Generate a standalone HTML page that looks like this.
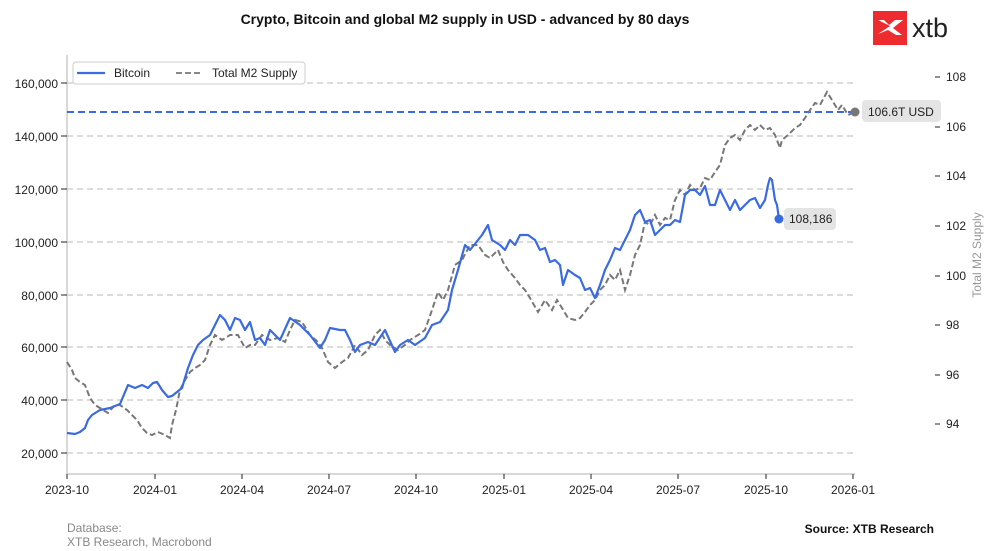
<!DOCTYPE html>
<html><head><meta charset="utf-8"><style>
body{margin:0;background:#fff;}
svg{display:block;font-family:"Liberation Sans",Arial,sans-serif;}
</style></head><body>
<svg width="989" height="551" viewBox="0 0 989 551">
<rect width="989" height="551" fill="#fff"/>
<text x="465" y="24" text-anchor="middle" font-size="14" font-weight="bold" fill="#111">Crypto, Bitcoin and global M2 supply in USD - advanced by 80 days</text>
<rect x="873" y="11" width="34" height="34" fill="#ee2b2f"/>
<path d="M878 20 L890 26 L878 34 L888 30 L896 35 L902 35 L893 28 L903 20 L895 20 L889 25 L884 20 Z" fill="#fff"/>
<text x="912" y="37" font-size="27" fill="#222">xtb</text>
<g stroke="#c8c8c8" stroke-width="1.3" stroke-dasharray="6,4">
<line x1="67" y1="83" x2="855" y2="83"/><line x1="67" y1="136" x2="855" y2="136"/><line x1="67" y1="189" x2="855" y2="189"/><line x1="67" y1="242" x2="855" y2="242"/><line x1="67" y1="295" x2="855" y2="295"/><line x1="67" y1="347" x2="855" y2="347"/><line x1="67" y1="400" x2="855" y2="400"/><line x1="67" y1="453" x2="855" y2="453"/>
</g>
<line x1="67" y1="55" x2="67" y2="474" stroke="#ccc" stroke-width="1.5"/>
<line x1="67" y1="474" x2="855" y2="474" stroke="#ccc" stroke-width="1.5"/>
<g font-size="12" fill="#222" text-anchor="end">
<text x="58" y="88">160,000</text><text x="58" y="141">140,000</text><text x="58" y="194">120,000</text><text x="58" y="247">100,000</text><text x="58" y="300">80,000</text><text x="58" y="352">60,000</text><text x="58" y="405">40,000</text><text x="58" y="458">20,000</text>
</g>
<g stroke="#222" stroke-width="1"><line x1="61" y1="83" x2="67" y2="83"/><line x1="61" y1="136" x2="67" y2="136"/><line x1="61" y1="189" x2="67" y2="189"/><line x1="61" y1="242" x2="67" y2="242"/><line x1="61" y1="295" x2="67" y2="295"/><line x1="61" y1="347" x2="67" y2="347"/><line x1="61" y1="400" x2="67" y2="400"/><line x1="61" y1="453" x2="67" y2="453"/>
<line x1="67" y1="474" x2="67" y2="479"/><line x1="155" y1="474" x2="155" y2="479"/><line x1="242" y1="474" x2="242" y2="479"/><line x1="329" y1="474" x2="329" y2="479"/><line x1="416" y1="474" x2="416" y2="479"/><line x1="504" y1="474" x2="504" y2="479"/><line x1="591" y1="474" x2="591" y2="479"/><line x1="678" y1="474" x2="678" y2="479"/><line x1="766" y1="474" x2="766" y2="479"/><line x1="853" y1="474" x2="853" y2="479"/>
<line x1="935" y1="77" x2="940" y2="77"/><line x1="935" y1="127" x2="940" y2="127"/><line x1="935" y1="176" x2="940" y2="176"/><line x1="935" y1="226" x2="940" y2="226"/><line x1="935" y1="276" x2="940" y2="276"/><line x1="935" y1="325" x2="940" y2="325"/><line x1="935" y1="375" x2="940" y2="375"/><line x1="935" y1="424" x2="940" y2="424"/>
</g>
<g font-size="12" fill="#222" text-anchor="middle">
<text x="67" y="494">2023-10</text><text x="155" y="494">2024-01</text><text x="242" y="494">2024-04</text><text x="329" y="494">2024-07</text><text x="416" y="494">2024-10</text><text x="504" y="494">2025-01</text><text x="591" y="494">2025-04</text><text x="678" y="494">2025-07</text><text x="766" y="494">2025-10</text><text x="853" y="494">2026-01</text>
</g>
<g font-size="12" fill="#222">
<text x="946" y="81">108</text><text x="946" y="131">106</text><text x="946" y="180">104</text><text x="946" y="230">102</text><text x="946" y="280">100</text><text x="946" y="329">98</text><text x="946" y="379">96</text><text x="946" y="428">94</text>
</g>
<text transform="translate(981,255) rotate(-90)" text-anchor="middle" font-size="12" fill="#999">Total M2 Supply</text>
<line x1="67" y1="112" x2="855" y2="112" stroke="#3b6be0" stroke-width="2" stroke-dasharray="7,4"/>
<polyline fill="none" stroke="#777" stroke-width="2" stroke-dasharray="6,3" points="67,362 72,370 75,378 80,382 85,385 90,398 95,405 100,408 108,413 115,405 120,405 127,410 132,415 137,420 142,428 147,433 152,435 158,432 165,435 170,438 172,425 176,410 180,390 185,380 190,372 195,368 200,365 205,360 210,345 215,335 222,340 230,335 238,335 245,348 250,345 255,345 262,335 270,340 278,338 285,342 290,330 295,320 302,322 310,335 318,342 322,348 328,362 335,368 342,362 348,358 355,345 362,355 368,350 375,335 380,330 385,340 390,345 398,350 405,345 410,340 418,335 425,330 432,310 438,292 443,300 448,290 455,265 462,260 470,245 478,245 485,255 490,258 498,250 503,262 508,270 515,278 520,285 525,290 530,298 538,312 545,300 552,310 557,300 562,308 568,318 575,320 580,318 585,312 590,305 595,300 600,290 605,285 610,275 615,280 620,270 625,290 630,275 635,255 640,245 645,222 650,225 655,215 660,225 665,218 670,220 675,200 680,190 685,195 690,185 695,190 700,188 705,178 710,180 715,172 720,165 725,145 730,138 735,135 740,140 745,130 750,125 755,130 760,125 765,130 770,128 775,135 780,148 782,140 788,135 795,128 800,125 805,118 810,110 815,103 820,105 827,92 832,100 838,110 842,105 848,115 855,112"/>
<polyline fill="none" stroke="#3b6be0" stroke-width="2.2" stroke-linejoin="round" points="67,433 75,434 80,432 85,428 88,420 92,415 100,410 110,408 120,404 128,385 135,388 142,385 148,388 153,383 157,382 162,390 168,397 172,396 177,392 182,388 188,368 193,355 198,345 203,340 210,335 215,325 220,315 225,320 230,330 235,318 240,320 245,330 250,322 255,340 260,338 265,345 270,330 280,340 290,318 300,325 310,335 320,348 325,340 330,328 340,330 345,330 350,340 355,352 360,345 368,342 375,345 385,330 395,352 400,345 408,340 415,345 425,338 432,325 440,322 448,310 452,290 458,270 465,245 470,250 478,240 482,235 488,225 492,240 500,245 505,250 510,240 515,245 520,235 528,235 535,240 540,250 545,248 550,262 555,260 560,265 563,285 568,270 575,275 580,278 585,290 590,288 595,298 600,285 605,270 610,260 615,248 620,250 625,240 630,230 635,215 640,210 645,222 650,220 655,235 660,230 665,225 670,225 675,220 680,222 685,195 690,190 695,190 700,195 705,186 710,205 715,205 720,190 725,200 730,210 735,200 740,210 745,205 750,200 755,198 760,208 765,200 768,185 770,178 772,180 775,200 777,205 779,219"/>
<circle cx="855" cy="112" r="4.5" fill="#777"/>
<rect x="862" y="100" width="79" height="22" rx="4" fill="#e4e4e4"/>
<text x="868" y="116" font-size="12" fill="#222">106.6T USD</text>
<circle cx="779" cy="219" r="4.5" fill="#3b6be0"/>
<rect x="784" y="208" width="52" height="22" rx="4" fill="#e4e4e4"/>
<text x="789" y="223" font-size="12" fill="#222">108,186</text>
<rect x="73" y="62" width="232" height="22" rx="3" fill="#fff" stroke="#ccc"/>
<line x1="77" y1="73" x2="105" y2="73" stroke="#3b6be0" stroke-width="2.2"/>
<text x="114" y="77" font-size="12" fill="#222">Bitcoin</text>
<line x1="176" y1="73" x2="202" y2="73" stroke="#888" stroke-width="2" stroke-dasharray="6,3"/>
<text x="212" y="77" font-size="12" fill="#222">Total M2 Supply</text>
<text x="67" y="532" font-size="12" fill="#888">Database:</text>
<text x="67" y="546" font-size="12" fill="#888">XTB Research, Macrobond</text>
<text x="934" y="533" text-anchor="end" font-size="12" font-weight="bold" fill="#111">Source: XTB Research</text>
</svg>
</body></html>
